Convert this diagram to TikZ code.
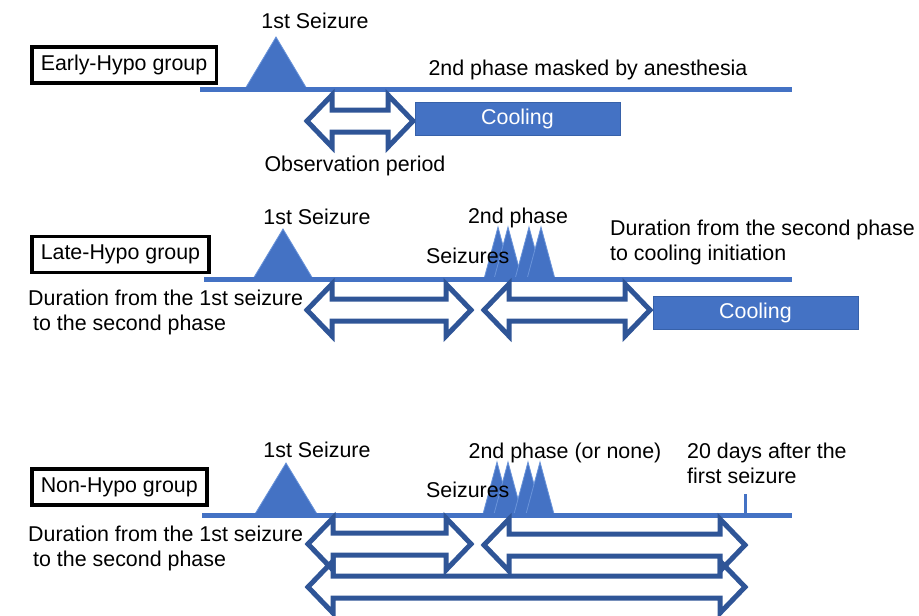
\documentclass[tikz,border=0pt]{standalone}
\usepackage{fontspec}
\setmainfont{Liberation Sans}
\usepackage{xcolor}
\definecolor{hypoblue}{HTML}{4472C4}
\definecolor{hypodark}{HTML}{2F5597}
\definecolor{hypoedge}{HTML}{6A94DA}
\usepackage{tikz}
\usetikzlibrary{calc}

\newcommand\hypofont{\fontsize{21.4pt}{25pt}\selectfont}
% hollow double arrow: left x, right x, centre y
\newcommand\spanarrow[3]{%
  \draw[spanarrow] (#1,#3) -- ++(25,-26) -- ++(0,15) -- ({#2-25},{#3-11}) -- ++(0,-15)
    -- (#2,#3) -- ++(-25,26) -- ++(0,-15) -- ({#1+25},{#3+11}) -- ++(0,15) -- cycle;}
% seizure peak: apex x, apex y, half width, base y
\newcommand\seizure[4]{%
  \filldraw[seizure] ({#1-#3},#4) -- (#1,#2) -- ({#1+#3},#4) -- cycle;}

\tikzset{
  groupbox/.style={draw=black,line width=3.5pt,inner xsep=9pt,minimum height=36pt,anchor=west,font=\hypofont},
  lbl/.style={inner sep=0pt,font=\hypofont},
  timeline/.style={draw=hypoblue,line width=4.5pt},
  spanarrow/.style={draw=hypodark,line width=5pt,line join=miter},
  seizure/.style={fill=hypoblue,draw=hypoedge,line width=0.8pt},
  coolbox/.style={fill=hypoblue,draw=hypodark!60!hypoblue,line width=0.8pt,text=white,font=\hypofont,
    minimum width=205pt,minimum height=33pt,inner sep=0pt},
}

\begin{document}
\begin{tikzpicture}[x=1pt,y=-1pt]
\useasboundingbox (0,0) rectangle (919,616);

% Early-Hypo
\node[groupbox] (early) at (30,65) {Early-Hypo group};
\seizure{276}{37}{31}{89}
\coordinate (t1a) at (200,89.5);
\coordinate (t1b) at (792,89.5);
\draw[timeline] (t1a) -- (t1b);
\node[lbl,anchor=base] (sz1) at (315,28.5) {1st Seizure};
\node[lbl,anchor=base] (mask1) at (588,75) {2nd phase masked by anesthesia};
\spanarrow{307}{413}{121}
\node[coolbox] (cool1) at (517.5,118.5) {Cooling};
\node[lbl,anchor=base] (obs1) at (355,171) {Observation period};

% Late-Hypo
\node[groupbox] (late) at (30,254.5) {Late-Hypo group};
\seizure{283}{229}{30}{279}
\foreach \ax in {498,508,529,541} {\seizure{\ax}{227}{14}{279}}
\coordinate (t2a) at (204,279.5);
\coordinate (t2b) at (792,279.5);
\draw[timeline] (t2a) -- (t2b);
\node[lbl,anchor=base] (sz2) at (317,224) {1st Seizure};
\node[lbl,anchor=base] (ph2) at (518,223) {2nd phase};
\node[lbl,anchor=base west] (szs2) at (426,263) {Seizures};
\node[lbl,anchor=base west] (durc2) at (610,235) {Duration from the second phase};
\node[lbl,anchor=base west] (durd2) at (610,260) {to cooling initiation};
\node[lbl,anchor=base west] (dura2) at (28,305) {Duration from the 1st seizure};
\node[lbl,anchor=base west] (durb2) at (33,330) {to the second phase};
\spanarrow{307}{471}{310}
\spanarrow{484}{650}{310}
\node[coolbox] (cool2) at (755.5,312.5) {Cooling};

% Non-Hypo
\node[groupbox] (non) at (30,487) {Non-Hypo group};
\seizure{286}{463}{31}{514}
\foreach \ax in {497,508,528,540} {\seizure{\ax}{462}{14}{514}}
\coordinate (t3a) at (202,515.5);
\coordinate (t3b) at (792,515.5);
\coordinate (day20) at (745,494);
\draw[timeline] (t3a) -- (t3b);
\draw[timeline,line width=3pt] (day20) -- (day20 |- t3a);
\node[lbl,anchor=base] (sz3) at (317,457) {1st Seizure};
\node[lbl,anchor=base] (ph3) at (565,458) {2nd phase (or none)};
\node[lbl,anchor=base west] (daya3) at (687,458) {20 days after the};
\node[lbl,anchor=base west] (dayb3) at (687,483) {first seizure};
\node[lbl,anchor=base west] (szs3) at (426,497) {Seizures};
\node[lbl,anchor=base west] (dura3) at (28,541) {Duration from the 1st seizure};
\node[lbl,anchor=base west] (durb3) at (33,566) {to the second phase};
\spanarrow{308}{471}{544}
\spanarrow{484}{745}{545}
\spanarrow{308}{745}{587}
\end{tikzpicture}
\end{document}
